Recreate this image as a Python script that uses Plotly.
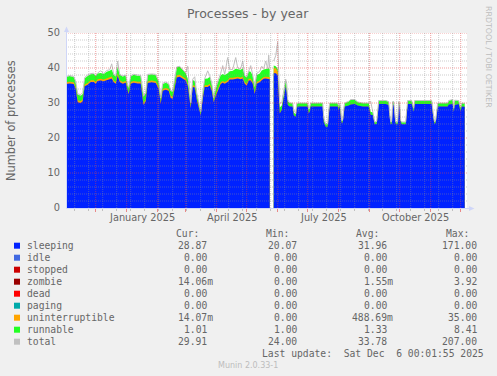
import plotly.graph_objects as go
import pandas as pd

# ---------------- data (daily averages) ----------------
dates = [
    "2024-11-01", "2024-11-05", "2024-11-09", "2024-11-11", "2024-11-13", "2024-11-16", "2024-11-18",
    "2024-11-20", "2024-11-23", "2024-11-26", "2024-11-29", "2024-12-01", "2024-12-03", "2024-12-06",
    "2024-12-09", "2024-12-12", "2024-12-15", "2024-12-17", "2024-12-19", "2024-12-21", "2024-12-23",
    "2024-12-25", "2024-12-28", "2024-12-31", "2025-01-02", "2025-01-03", "2025-01-05", "2025-01-08",
    "2025-01-12", "2025-01-15", "2025-01-17", "2025-01-18", "2025-01-20", "2025-01-22", "2025-01-26",
    "2025-01-30", "2025-02-02", "2025-02-04", "2025-02-06", "2025-02-09", "2025-02-12", "2025-02-14",
    "2025-02-16", "2025-02-18", "2025-02-20", "2025-02-23", "2025-02-26", "2025-03-01", "2025-03-03",
    "2025-03-05", "2025-03-06", "2025-03-08", "2025-03-10", "2025-03-12", "2025-03-14", "2025-03-16",
    "2025-03-18", "2025-03-20", "2025-03-23", "2025-03-25", "2025-03-27", "2025-03-29", "2025-03-31",
    "2025-04-02", "2025-04-05", "2025-04-07", "2025-04-09", "2025-04-12", "2025-04-14", "2025-04-17",
    "2025-04-20", "2025-04-22", "2025-04-25", "2025-04-27", "2025-04-29", "2025-05-01", "2025-05-03",
    "2025-05-05", "2025-05-07", "2025-05-09", "2025-05-11", "2025-05-14", "2025-05-16", "2025-05-18",
    "2025-05-20", "2025-05-22", "2025-05-23", "2025-05-24", "2025-05-26", "2025-05-28", "2025-05-30",
    "2025-06-01", "2025-06-02", "2025-06-03", "2025-06-05", "2025-06-07", "2025-06-09", "2025-06-10",
    "2025-06-11", "2025-06-13", "2025-06-16", "2025-06-17", "2025-06-19", "2025-06-20", "2025-06-21",
    "2025-07-01", "2025-07-02", "2025-07-03", "2025-07-04", "2025-07-16", "2025-07-17", "2025-07-19",
    "2025-07-21", "2025-07-22", "2025-07-23", "2025-07-31", "2025-08-01", "2025-08-02", "2025-08-03",
    "2025-08-04", "2025-08-05", "2025-08-06", "2025-08-07", "2025-08-11", "2025-08-13", "2025-08-17",
    "2025-08-20", "2025-08-25", "2025-08-31", "2025-09-02", "2025-09-04", "2025-09-06", "2025-09-08",
    "2025-09-09", "2025-09-10", "2025-09-17", "2025-09-20", "2025-09-21", "2025-09-22", "2025-09-23",
    "2025-09-24", "2025-09-25", "2025-09-26", "2025-09-27", "2025-09-29", "2025-09-30", "2025-10-01",
    "2025-10-02", "2025-10-03", "2025-10-07", "2025-10-08", "2025-10-09", "2025-10-13", "2025-10-14",
    "2025-10-15", "2025-10-16", "2025-11-02", "2025-11-04", "2025-11-05", "2025-11-06", "2025-11-07",
    "2025-11-08", "2025-11-18", "2025-11-19", "2025-11-23", "2025-11-24", "2025-11-25", "2025-11-29",
    "2025-11-30", "2025-12-01", "2025-12-02", "2025-12-05",
]

sleeping = [
    35.4, 35.6, 35.4, 34.0, 30.2, 30.0, 30.5,
    34.8, 35.2, 36.0, 36.0, 35.5, 36.3, 36.4,
    36.2, 36.6, 36.8, 37.0, 35.9, 35.5, 37.8,
    36.0, 35.5, 35.8, 33.0, 32.5, 35.5, 35.8,
    35.6, 35.6, 31.0, 29.4, 30.5, 35.7, 35.9,
    35.7, 34.0, 29.8, 33.5, 33.8, 33.5, 31.4,
    31.2, 34.5, 37.3, 37.5, 37.0, 36.4, 35.0,
    31.0, 28.5, 34.6, 34.4, 31.0, 29.0, 26.4,
    31.0, 34.6, 34.6, 35.0, 33.5, 30.2, 32.0,
    33.5, 35.4, 35.8, 35.5, 36.0, 36.7, 36.7,
    36.9, 37.0, 36.8, 37.0, 35.5, 35.0, 36.4,
    36.4, 35.5, 32.6, 35.5, 35.9, 36.5, 36.9,
    37.0, 36.9, 37.0, 36.8, None, 38.5, 38.5,
    38.0, 30.0, 27.0, 28.0, 31.0, 34.7, 33.0,
    29.4, 29.0, 29.0, 26.5, 26.1, 28.5, 29.0,
    29.0, 27.0, 27.5, 29.0, 29.0, 24.5, 23.2,
    23.2, 26.0, 29.0, 29.0, 28.0, 29.0, 27.0,
    24.2, 24.5, 27.0, 29.0, 29.3, 29.6, 29.7,
    29.3, 29.0, 29.0, 26.6, 26.6, 23.9, 24.0,
    27.0, 29.7, 29.7, 29.4, 26.0, 23.9, 24.0,
    29.4, 29.4, 26.0, 23.9, 23.9, 29.4, 29.0,
    24.5, 23.9, 23.9, 27.0, 29.7, 29.7, 28.0,
    27.5, 29.7, 29.7, 25.0, 23.9, 24.5, 28.0,
    29.0, 29.0, 29.6, 29.7, 27.5, 29.4, 29.7,
    28.5, 27.7, 29.0, 28.9,
]

uninterruptible = [
    0.5, 0.5, 0.5, 0.5, 0.6, 0.6, 0.5,
    0.5, 0.5, 0.5, 0.5, 0.5, 0.5, 0.5,
    0.5, 0.5, 0.5, 0.6, 0.5, 0.5, 0.6,
    0.5, 0.5, 0.5, 0.5, 0.5, 0.5, 0.5,
    0.5, 0.5, 0.6, 0.6, 0.5, 0.5, 0.5,
    0.5, 0.5, 0.4, 0.5, 0.5, 0.5, 0.6,
    0.6, 0.5, 0.6, 0.6, 0.5, 0.5, 0.5,
    0.5, 0.4, 0.5, 0.5, 0.4, 0.4, 0.3,
    0.4, 0.5, 0.5, 0.5, 0.5, 0.4, 0.4,
    0.5, 0.5, 0.5, 0.5, 0.5, 0.5, 0.5,
    0.6, 0.5, 0.5, 0.6, 0.5, 0.5, 0.5,
    0.5, 0.5, 0.5, 0.5, 0.5, 0.5, 0.5,
    0.5, 0.6, 0.6, 0.6, None, 1.4, 1.4,
    1.0, 0.3, 0.2, 0.1, 0.1, 0.1, 0.1,
    0.1, 0.0, 0.0, 0.0, 0.0, 0.0, 0.0,
    0.0, 0.0, 0.0, 0.0, 0.0, 0.0, 0.0,
    0.0, 0.0, 0.0, 0.0, 0.0, 0.0, 0.0,
    0.0, 0.0, 0.0, 0.0, 0.0, 0.0, 0.0,
    0.0, 0.0, 0.0, 0.0, 0.0, 0.0, 0.0,
    0.0, 0.0, 0.0, 0.0, 0.0, 0.0, 0.0,
    0.0, 0.0, 0.0, 0.0, 0.0, 0.0, 0.0,
    0.0, 0.0, 0.0, 0.0, 0.0, 0.0, 0.0,
    0.0, 0.0, 0.0, 0.0, 0.0, 0.0, 0.0,
    0.0, 0.0, 0.0, 0.0, 0.0, 0.0, 0.0,
    0.0, 0.0, 0.0, 0.0,
]

runnable = [
    1.6, 1.6, 1.5, 1.5, 1.6, 1.5, 1.6,
    1.8, 2.0, 1.7, 1.8, 1.7, 1.6, 1.7,
    1.6, 1.8, 1.9, 2.0, 1.7, 1.6, 2.0,
    1.6, 1.6, 1.6, 1.4, 1.4, 1.6, 1.8,
    1.7, 1.7, 1.8, 1.8, 1.8, 1.8, 1.8,
    1.8, 1.5, 1.0, 1.4, 1.5, 1.4, 1.4,
    1.4, 1.5, 2.3, 2.3, 2.0, 1.6, 1.5,
    1.2, 1.0, 1.5, 1.4, 1.2, 1.0, 0.8,
    1.2, 1.8, 1.9, 2.0, 1.5, 1.3, 1.5,
    1.8, 2.0, 2.0, 2.0, 2.0, 1.9, 2.0,
    2.3, 2.2, 2.2, 2.3, 1.8, 1.8, 2.2,
    2.0, 1.8, 1.5, 2.0, 2.0, 2.3, 2.2,
    2.3, 2.3, 2.3, 2.2, None, 0.8, 0.6,
    0.8, 0.8, 1.5, 1.2, 1.3, 1.9, 1.5,
    1.0, 1.0, 1.0, 0.8, 0.7, 1.0, 1.0,
    1.0, 1.0, 1.0, 1.0, 1.0, 0.8, 0.7,
    0.7, 1.0, 1.0, 1.0, 1.0, 1.0, 1.0,
    0.6, 0.6, 1.0, 1.0, 1.1, 1.3, 1.2,
    1.0, 1.0, 1.0, 0.8, 0.8, 0.6, 0.6,
    1.0, 1.0, 1.0, 1.0, 0.8, 0.6, 0.6,
    1.0, 1.0, 0.8, 0.6, 0.6, 1.0, 1.0,
    0.6, 0.6, 0.6, 0.8, 1.0, 1.0, 1.0,
    1.0, 1.0, 1.0, 0.7, 0.6, 0.6, 1.0,
    1.0, 1.0, 1.1, 1.2, 1.0, 1.3, 1.0,
    1.0, 1.0, 1.0, 1.0,
]

total = [
    37.6, 37.8, 37.6, 36.2, 32.6, 32.4, 33.0,
    37.3, 38.0, 38.4, 38.5, 37.8, 38.6, 39.2,
    38.4, 39.3, 39.5, 41.2, 38.2, 37.8, 42.0,
    38.2, 37.7, 38.0, 35.0, 34.5, 37.8, 38.2,
    38.0, 37.9, 33.8, 32.0, 33.0, 38.2, 38.3,
    38.2, 36.2, 31.5, 35.6, 36.0, 35.5, 33.6,
    33.4, 36.6, 40.3, 40.5, 39.6, 38.6, 40.5,
    32.8, 30.0, 36.8, 37.5, 33.0, 30.5, 27.5,
    33.0, 37.0, 39.2, 37.8, 35.8, 31.5, 34.5,
    36.0, 38.5, 40.7, 38.2, 43.0, 39.5, 39.6,
    43.0, 40.0, 39.8, 42.0, 37.8, 37.5, 39.0,
    40.7, 38.0, 34.8, 38.5, 39.0, 40.5, 39.8,
    42.0, 39.8, 43.7, 39.8, None, 42.0, 43.5,
    47.5, 38.0, 30.0, 30.0, 33.0, 36.8, 35.5,
    31.0, 30.0, 30.0, 28.0, 27.0, 29.8, 30.0,
    30.0, 28.5, 29.0, 30.0, 30.0, 26.0, 24.0,
    24.2, 28.0, 30.0, 30.0, 29.0, 30.0, 28.5,
    25.0, 25.2, 28.5, 30.0, 30.5, 31.0, 31.0,
    30.3, 30.0, 30.0, 30.5, 27.5, 24.6, 24.8,
    28.0, 30.7, 30.7, 30.4, 27.0, 24.6, 24.8,
    30.4, 30.4, 27.0, 24.6, 24.6, 30.4, 30.0,
    25.0, 24.6, 24.6, 28.0, 30.7, 30.7, 29.0,
    28.5, 30.7, 30.7, 26.0, 24.6, 25.2, 29.0,
    30.0, 30.0, 30.7, 31.0, 28.5, 30.8, 30.7,
    29.5, 28.8, 30.0, 29.9,
]

# legend table
legend_names = ["sleeping", "idle", "stopped", "zombie", "dead", "paging",
                "uninterruptible", "runnable", "total"]
legend_colors = ["#0022FF", "#4169E1", "#CC0000", "#990000", "#FF0000", "#00AAAA",
                 "#FFA500", "#22FF22", "#C0C0C0"]
cur_vals = ["28.87", "0.00", "0.00", "14.06m", "0.00", "0.00", "14.07m", "1.01", "29.91"]
min_vals = ["20.07", "0.00", "0.00", "0.00", "0.00", "0.00", "0.00", "1.00", "24.00"]
avg_vals = ["31.96", "0.00", "0.00", "1.55m", "0.00", "0.00", "488.69m", "1.33", "33.78"]
max_vals = ["171.00", "0.00", "0.00", "3.92", "0.00", "0.00", "35.00", "8.41", "207.00"]
col_headers = ["Cur:", "Min:", "Avg:", "Max:"]

month_labels = ["January 2025", "April 2025", "July 2025", "October 2025"]
month_label_pos = ["2025-01-16 12:00", "2025-04-16", "2025-07-16 12:00", "2025-10-16 12:00"]

# ---------------- layout constants ----------------
W_PX, H_PX = 497, 376
L, PW = 66, 401
T, PH = 33, 175
FONT_COL = "#666666"
SANS = "DejaVu Sans"
MONO = "DejaVu Sans Mono"


def fx(p):
    return (p - L) / PW


def fy(p):
    return (T + PH - p) / PH


def add(a, b):
    return [None if (x is None or y is None) else x + y for x, y in zip(a, b)]


def segments(xs, ys):
    out, cx, cy = [], [], []
    for x, y in zip(xs, ys):
        if y is None:
            if cx:
                out.append((cx, cy))
            cx, cy = [], []
        else:
            cx.append(x)
            cy.append(y)
    if cx:
        out.append((cx, cy))
    return out


top_unint = add(sleeping, uninterruptible)
top_run = add(top_unint, runnable)

fig = go.Figure()
for ys, col in [(top_run, "#22FF22"), (top_unint, "#FFA500"), (sleeping, "#0022FF")]:
    for sx, sy in segments(dates, ys):
        fig.add_trace(go.Scatter(x=sx, y=sy, mode="lines", line=dict(width=0, color=col),
                                 fill="tozeroy", fillcolor=col,
                                 hoverinfo="skip", showlegend=False))
for sx, sy in segments(dates, total):
    fig.add_trace(go.Scatter(x=sx, y=sy, mode="lines", line=dict(width=1, color="#C0C0C0"),
                             hoverinfo="skip", showlegend=False))

shapes = []
GREY = "rgba(143,143,143,0.45)"
RED = "rgba(229,68,68,0.5)"
# horizontal grid
for v in range(2, 51, 2):
    shapes.append(dict(type="line", xref="paper", yref="y", x0=0, x1=1, y0=v, y1=v,
                       line=dict(color=RED if v % 10 == 0 else GREY, width=1, dash="1px,1px"),
                       layer="above"))
# vertical grid
minor_days = pd.date_range("2024-11-10", "2025-12-06", freq="14D")
month_starts = pd.date_range("2024-12-01", "2025-12-06", freq="MS")
for d in minor_days:
    shapes.append(dict(type="line", xref="x", yref="paper", x0=d, x1=d, y0=0, y1=1,
                       line=dict(color=GREY, width=1, dash="1px,1px"), layer="above"))
for d in month_starts:
    shapes.append(dict(type="line", xref="x", yref="paper", x0=d, x1=d, y0=0, y1=1,
                       line=dict(color=RED, width=1, dash="1px,1px"), layer="above"))
AX = "#CFD6F8"
# axes lines
shapes.append(dict(type="line", xref="paper", yref="paper", x0=fx(66.5), x1=fx(470), y0=fy(208.5), y1=fy(208.5),
                   line=dict(color=AX, width=1), layer="above"))
shapes.append(dict(type="line", xref="paper", yref="paper", x0=fx(66.5), x1=fx(66.5), y0=fy(208.5), y1=fy(30),
                   line=dict(color=AX, width=1), layer="above"))
# arrows
shapes.append(dict(type="path", xref="paper", yref="paper", xsizemode="pixel", ysizemode="pixel",
                   xanchor=fx(66.5), yanchor=fy(33), path="M -2.5,1 L 2.5,1 L 0,6.5 Z",
                   fillcolor=AX, line=dict(width=0), layer="above"))
shapes.append(dict(type="path", xref="paper", yref="paper", xsizemode="pixel", ysizemode="pixel",
                   xanchor=fx(469), yanchor=fy(208.5), path="M 0,-2.5 L 0,2.5 L 5.5,0 Z",
                   fillcolor=AX, line=dict(width=0), layer="above"))
# legend squares
row_y = [245.7 + 12 * i for i in range(len(legend_names))]
for yc, col in zip(row_y, legend_colors):
    shapes.append(dict(type="rect", xref="paper", yref="paper", x0=fx(14), x1=fx(20),
                       y0=fy(yc + 3), y1=fy(yc - 3), fillcolor=col, line=dict(width=0)))

ann = []


def text(x, y, s, size, family=SANS, xanchor="left", color=FONT_COL, angle=0, xref="paper"):
    ann.append(dict(x=x, y=y, xref=xref, yref="paper", text=s, showarrow=False,
                    xanchor=xanchor, yanchor="middle", textangle=angle, borderpad=0,
                    borderwidth=0, font=dict(family=family, size=size, color=color)))


text(fx(248.3), fy(13.5), "Processes - by year", 12.5, xanchor="center")
text(fx(10.5), fy(120.5), "Number of processes", 11.4, xanchor="center", angle=-90)
text(fx(489), fy(57), "RRDTOOL / TOBI OETIKER", 7.9, xanchor="center", angle=90, color="#BDBDBD")
for lab, pos in zip(month_labels, month_label_pos):
    text(pos, fy(217.5), lab, 9.8, xanchor="center", xref="x")

CHW = 5.85
col_edges = [206.7, 296.7, 387.3, 476.7]
for h, e in zip(col_headers, col_edges):
    text(fx(e - 8), fy(233), h, 9.7, family=MONO, xanchor="right")
for i, (name, yc) in enumerate(zip(legend_names, row_y)):
    text(fx(26.5), fy(yc), name, 9.7, family=MONO)
    for vals, e in zip([cur_vals, min_vals, avg_vals, max_vals], col_edges):
        s = vals[i]
        edge = e + CHW if s.endswith("m") else e
        text(fx(edge), fy(yc), s, 9.7, family=MONO, xanchor="right")
text(fx(483.5), fy(353.7), "Last update:\u00a0\u00a0Sat Dec\u00a0\u00a06 00:01:55 2025", 9.7,
     family=MONO, xanchor="right")
text(fx(248), fy(365.5), "Munin 2.0.33-1", 8, xanchor="center", color="#BDBDBD")

fig.update_layout(
    width=W_PX, height=H_PX, autosize=False,
    margin=dict(l=L, r=W_PX - L - PW, t=T, b=H_PX - T - PH, pad=0),
    paper_bgcolor="#F0F0F0", plot_bgcolor="#FFFFFF",
    shapes=shapes, annotations=ann, showlegend=False,
    xaxis=dict(type="date", range=["2024-11-01 07:00", "2025-12-07 07:00"],
               showgrid=False, zeroline=False, showline=False, showticklabels=False,
               tickmode="array", tickvals=list(month_starts), ticks="outside", ticklen=3,
               tickcolor="rgba(229,68,68,0.6)", tickwidth=1,
               minor=dict(tickmode="array", tickvals=list(minor_days), ticks="outside",
                          ticklen=2, tickcolor="rgba(143,143,143,0.5)", showgrid=False)),
    yaxis=dict(range=[0, 50], tickmode="array", tickvals=[0, 10, 20, 30, 40, 50],
               showgrid=False, zeroline=False, showline=False, ticks="",
               ticklabelstandoff=5,
               tickfont=dict(family=SANS, size=9.8, color=FONT_COL)),
)

fig.write_html("out.html", config={"displayModeBar": False},
               post_script="document.body.style.margin='0';document.body.style.overflow='hidden';")
